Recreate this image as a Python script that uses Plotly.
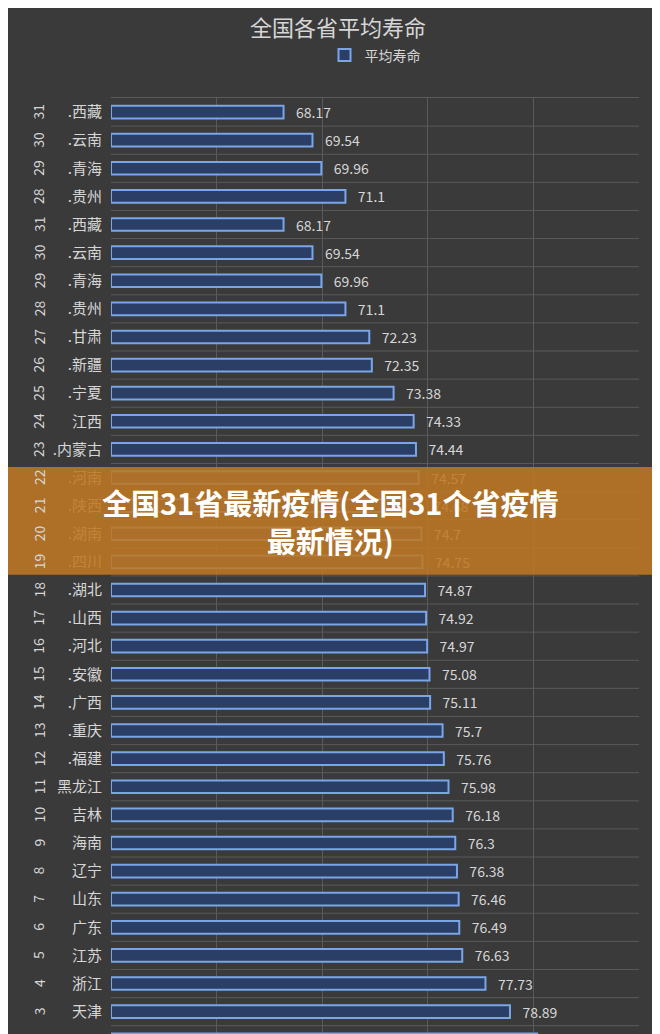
import plotly.graph_objects as go

ranks = [31, 30, 29, 28, 31, 30, 29, 28, 27, 26, 25, 24, 23, 22, 21, 20, 19, 18, 17, 16,
         15, 14, 13, 12, 11, 10, 9, 8, 7, 6, 5, 4, 3, 2, 1]
provinces = [".西藏", ".云南", ".青海", ".贵州", ".西藏", ".云南", ".青海", ".贵州", ".甘肃", ".新疆",
             ".宁夏", "江西", ".内蒙古", ".河南", ".陕西", ".湖南", ".四川", ".湖北", ".山西", ".河北",
             ".安徽", ".广西", ".重庆", ".福建", "黑龙江", "吉林", "海南", "辽宁", "山东", "广东",
             "江苏", "浙江", "天津", "北京", "上海"]
life = [68.17, 69.54, 69.96, 71.1, 68.17, 69.54, 69.96, 71.1, 72.23, 72.35,
        73.38, 74.33, 74.44, 74.57, 74.68, 74.7, 74.75, 74.87, 74.92, 74.97,
        75.08, 75.11, 75.7, 75.76, 75.98, 76.18, 76.3, 76.38, 76.46, 76.49,
        76.63, 77.73, 78.89, 80.18, 80.26]

rows = list(range(len(ranks)))
txt = "#d6d6d6"
font = "Noto Sans CJK SC"

fig = go.Figure()
fig.add_trace(go.Bar(
    x=[v - 60 for v in life], base=60, y=rows, orientation="h", width=0.45,
    marker=dict(color="#2b3f66", line=dict(color="#7aa6e8", width=2)),
    text=[("%g" % v) for v in life], texttemplate="   %{text}", textposition="outside",
    textfont=dict(color=txt, size=14, family=font), cliponaxis=True,
    name="平均寿命", showlegend=True,
))

for r, k in zip(rows, ranks):
    fig.add_annotation(x=-0.16, xref="paper", y=r, yref="y", text=str(k), textangle=-90,
                       showarrow=False, font=dict(color=txt, size=14, family=font))

b0, b1 = 0.609, 0.495
fig.add_shape(type="rect", xref="paper", yref="paper", x0=-0.25, x1=1.1, y0=b0, y1=b1,
              fillcolor="rgba(190,120,35,0.88)", line=dict(width=0), layer="above")
fig.add_annotation(x=0.5, y=(b0 + b1) / 2, xref="paper", yref="paper", xshift=-45,
                   text="<b>全国31省最新疫情(全国31个省疫情<br>最新情况)</b>", showarrow=False,
                   font=dict(color="white", size=29, family=font), align="center")

fig.update_layout(
    width=660, height=1034,
    margin=dict(l=103, r=29, t=90, b=0),
    paper_bgcolor="#3a3a3a", plot_bgcolor="#3a3a3a",
    title=dict(text="全国各省平均寿命", x=0.5, y=0.988, yanchor="top",
               font=dict(color=txt, size=22, family=font)),
    legend=dict(orientation="h", x=0.5, xanchor="center", y=1.045, yanchor="middle",
                font=dict(color=txt, size=14, family=font), bgcolor="rgba(0,0,0,0)"),
    bargap=0.5, uniformtext=dict(minsize=14, mode="show"),
)
fig.update_xaxes(range=[60, 85], dtick=5, showgrid=True, gridcolor="#5a5a5a",
                 showticklabels=False, zeroline=False, mirror=True, showline=True, linecolor="#5a5a5a")
fig.update_yaxes(range=[33.08, -0.5], tickmode="array", tickvals=rows, ticktext=provinces,
                 tickfont=dict(color=txt, size=15, family=font), showgrid=False, zeroline=False,
                 ticks="", ticklabelstandoff=8)
for r in rows:
    fig.add_shape(type="line", xref="x", yref="y", x0=60, x1=85, y0=r + 0.5, y1=r + 0.5,
                  line=dict(color="#5a5a5a", width=1), layer="below")

fig.write_html("out.html")
